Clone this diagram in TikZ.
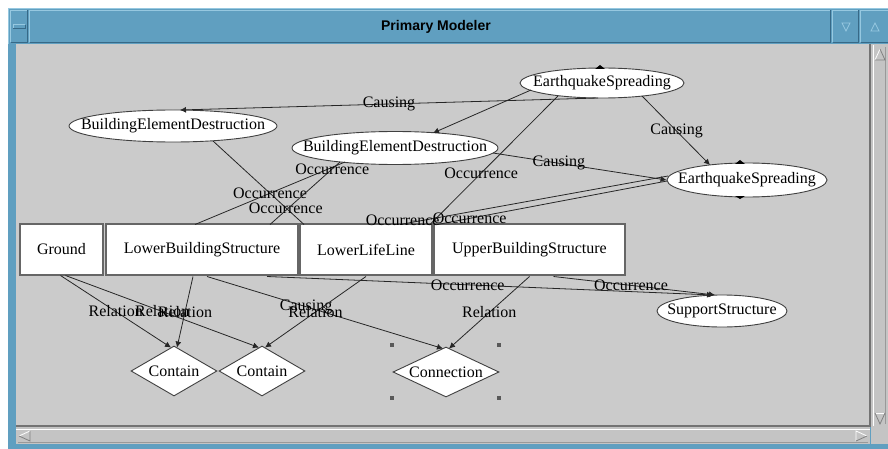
\documentclass[tikz,border=0pt]{standalone}
\usepackage{fontspec}
\setmainfont{Liberation Serif}
\newfontfamily\titlefont{Liberation Sans}
\usetikzlibrary{shapes.geometric,arrows.meta,calc}

\definecolor{winblue}{RGB}{96,159,192}
\definecolor{winlight}{RGB}{150,200,224}
\definecolor{windark}{RGB}{55,105,135}
\definecolor{canvasgray}{RGB}{203,203,203}
\definecolor{sbgray}{RGB}{196,196,196}

% zero-width text so the shape takes its size from minimum width/height
\newcommand\ovaltext[1]{\makebox[0pt]{#1}}

\begin{document}
\begin{tikzpicture}[x=1pt,y=-1pt,
  every node/.style={inner sep=0pt, font=\fontsize{16}{18}\selectfont},
  conceptbox/.style={rectangle, draw=black!60, line width=1.5pt, fill=white, minimum height=51pt},
  conceptoval/.style={ellipse, draw=black!75, line width=0.9pt, fill=white},
  relshape/.style={diamond, draw=black!75, line width=0.9pt, fill=white},
  link/.style={draw=black!85, line width=0.8pt},
  linkarrow/.style={link, -{Latex[length=6pt,width=6pt]}},
  lbl/.style={text=black},
  handle/.style={fill=black!65},
  portmark/.style={fill=black},
  bevel light/.style={draw=winlight, line width=1pt},
  bevel dark/.style={draw=windark, line width=1pt}
]
\useasboundingbox (0,0) rectangle (888,449);
\fill[white] (0,0) rectangle (888,449);

% ---- window frame and title bar ----
\fill[winblue] (8,8) rectangle (888,449);
\draw[bevel light] (8.5,44) -- (8.5,8.5) -- (888,8.5);
% menu button
\draw[bevel light] (10.5,42.5) -- (10.5,10.5) -- (27.5,10.5);
\draw[bevel dark] (27.5,10.5) -- (27.5,42.5) -- (10.5,42.5);
\draw[bevel light] (13,29) -- (13,25) -- (25,25);
\draw[bevel dark] (25,25) -- (25,29) -- (13,29);
% title area
\draw[bevel light] (29.5,42.5) -- (29.5,10.5) -- (830.5,10.5);
\draw[bevel dark] (830.5,10.5) -- (830.5,42.5) -- (29.5,42.5);
\node[font=\titlefont\bfseries\fontsize{14}{16}\selectfont] (title) at (436,27) {Primary Modeler};
% minimise / maximise buttons
\draw[bevel light] (832.5,42.5) -- (832.5,10.5) -- (858.5,10.5);
\draw[bevel dark] (858.5,10.5) -- (858.5,42.5) -- (832.5,42.5);
\draw[bevel light] (860.5,42.5) -- (860.5,10.5) -- (888,10.5);
\draw[bevel dark] (860.5,42.5) -- (888,42.5);
\draw[draw=winlight, line width=0.8pt] (842,23) -- (850,23) -- (846,31) -- cycle;
\draw[draw=winlight, line width=0.8pt] (871,31) -- (879,31) -- (875,23) -- cycle;

% ---- drawing canvas ----
\fill[canvasgray] (16,44) rectangle (870,426);
\draw[black!55, line width=1.2pt] (870,44) -- (870,426) -- (16,426);

% vertical scrollbar
\fill[sbgray] (871,44) rectangle (888,444);
\draw[white, line width=1pt] (873,45) -- (873,426);
\draw[black!40, line width=0.8pt] (885.5,47) -- (885.5,424);
\draw[white, line width=0.8pt] (875,60) -- (880,49);
\draw[black!50, line width=0.8pt] (880,49) -- (885,60) -- (875,60);
\draw[white, line width=0.8pt] (875,413) -- (885,413);
\draw[black!50, line width=0.8pt] (885,413) -- (880,424) -- (875,413);

% horizontal scrollbar
\fill[sbgray] (16,427) rectangle (870,444);
\draw[white, line width=1pt] (16,429.5) -- (870,429.5);
\draw[black!40, line width=0.8pt] (18,442.5) -- (868,442.5);
\draw[white, line width=0.8pt] (30,431) -- (19,436);
\draw[black!50, line width=0.8pt] (19,436) -- (30,441) -- (30,431);
\draw[white, line width=0.8pt] (856,441) -- (856,431) -- (867,436);
\draw[black!50, line width=0.8pt] (867,436) -- (856,441);

% ---- concept ovals ----
\node[conceptoval, minimum width=208pt, minimum height=32pt] (leftBED) at (173,126) {\ovaltext{BuildingElementDestruction}};
\node[conceptoval, minimum width=206pt, minimum height=33pt] (midBED) at (395,148) {\ovaltext{BuildingElementDestruction}};
\node[conceptoval, minimum width=164pt, minimum height=30pt] (topES) at (602,83) {\ovaltext{EarthquakeSpreading}};
\node[conceptoval, minimum width=160pt, minimum height=34pt] (rightES) at (747,180) {\ovaltext{EarthquakeSpreading}};
\node[conceptoval, minimum width=130pt, minimum height=32pt] (supp) at (722,311) {\ovaltext{SupportStructure}};

% ---- structure boxes ----
\node[conceptbox, minimum width=83pt] (ground) at (61.5,249.5) {Ground};
\node[conceptbox, minimum width=192pt] (lbs) at (202,249.5) {LowerBuildingStructure};
\node[conceptbox, minimum width=132pt] (lll) at (366,249.5) {LowerLifeLine};
\node[conceptbox, minimum width=191pt] (ubs) at (529.5,249.5) {UpperBuildingStructure};

% ---- relation diamonds ----
\node[relshape, minimum width=86pt, minimum height=50pt] (contain1) at (174,371) {\ovaltext{Contain}};
\node[relshape, minimum width=86pt, minimum height=50pt] (contain2) at (262,371) {\ovaltext{Contain}};
\node[relshape, minimum width=106pt, minimum height=50pt] (conn) at (446,372) {\ovaltext{Connection}};

% selection handles around the chosen relation
\foreach \dx/\dy in {-54/-27, 53/-27, -54/26, 53/26}
  \fill[handle] ([shift={(\dx-2,\dy-2)}]conn.center) rectangle ++(4,4);

% port marks on the ovals
\fill[portmark] ([shift={(-7,-14)}]topES.center) -- ++(10,0) -- ++(-5,-4) -- cycle;
\fill[portmark] ([shift={(-12,-16)}]rightES.center) -- ++(10,0) -- ++(-5,-4) -- cycle;
\fill[portmark] ([shift={(-12,16)}]rightES.center) -- ++(10,0) -- ++(-5,3) -- cycle;

% ---- causal links ----
\draw[linkarrow] ([shift={(-4,15)}]topES.center) -- node[lbl]{Causing} ([shift={(7,-16)}]leftBED.center);
\draw[linkarrow] ([shift={(-71,7)}]topES.center) -- ([shift={(38,-15)}]midBED.center);
\draw[linkarrow] ([shift={(40,13)}]topES.center) -- node[lbl,pos=.51]{Causing} ([shift={(-37,-15)}]rightES.center);
\draw[linkarrow] ([shift={(98,5)}]midBED.center) -- node[lbl,pos=.38]{Causing} (rightES.west);

% ---- occurrence links ----
\draw[link] ([shift={(-44,13)}]topES.center) -- node[lbl,pos=.6]{Occurrence} ([shift={(64,-25)}]lll.center);
\draw[link] ([shift={(40,15)}]leftBED.center) -- node[lbl,pos=.8]{Occurrence} ([shift={(-62,-25)}]lll.center);
\draw[link] ([shift={(-7,-25)}]lbs.center) -- node[lbl,pos=.5]{Occurrence} ([shift={(-50,14)}]midBED.center);
\draw[link] ([shift={(68,-25)}]lbs.center) -- node[lbl,pos=.89]{Occurrence} ([shift={(-55,14)}]midBED.center);
\draw[link] ([shift={(-92,-25)}]ubs.center) -- node[lbl,pos=.14]{Occurrence} ([shift={(-80,1)}]rightES.center);
\draw[link] ([shift={(34,-25)}]lll.center) -- node[lbl,pos=.01,yshift=4pt]{Occurrence} ([shift={(-79,-4)}]rightES.center);
\draw[linkarrow] ([shift={(65,27)}]lbs.center) -- node[lbl,pos=.45]{Occurrence} ([shift={(-9,-16)}]supp.center);
\draw[linkarrow] ([shift={(24,27)}]ubs.center) -- node[lbl,pos=.48]{Occurrence} ([shift={(-7,-16)}]supp.center);

% ---- relation links ----
\draw[linkarrow] ([shift={(-1,26)}]ground.center) -- node[lbl]{Relation} ([shift={(-3,2)}]contain1.north);
\draw[linkarrow] ([shift={(4,26)}]ground.center) -- node[lbl]{Relation} ([shift={(-3,2)}]contain2.north);
\draw[linkarrow] ([shift={(-9,27)}]lbs.center) -- node[lbl]{Relation} ([shift={(3,2)}]contain1.north);
\draw[linkarrow] ([shift={(5,27)}]lbs.center) -- node[lbl,pos=.42]{Causing} ([shift={(-3,2)}]conn.north);
\draw[linkarrow] ([shift={(0,27)}]lll.center) -- node[lbl]{Relation} ([shift={(3,2)}]contain2.north);
\draw[linkarrow] ([shift={(0,27)}]ubs.center) -- node[lbl]{Relation} ([shift={(3,2)}]conn.north);
\end{tikzpicture}
\end{document}
